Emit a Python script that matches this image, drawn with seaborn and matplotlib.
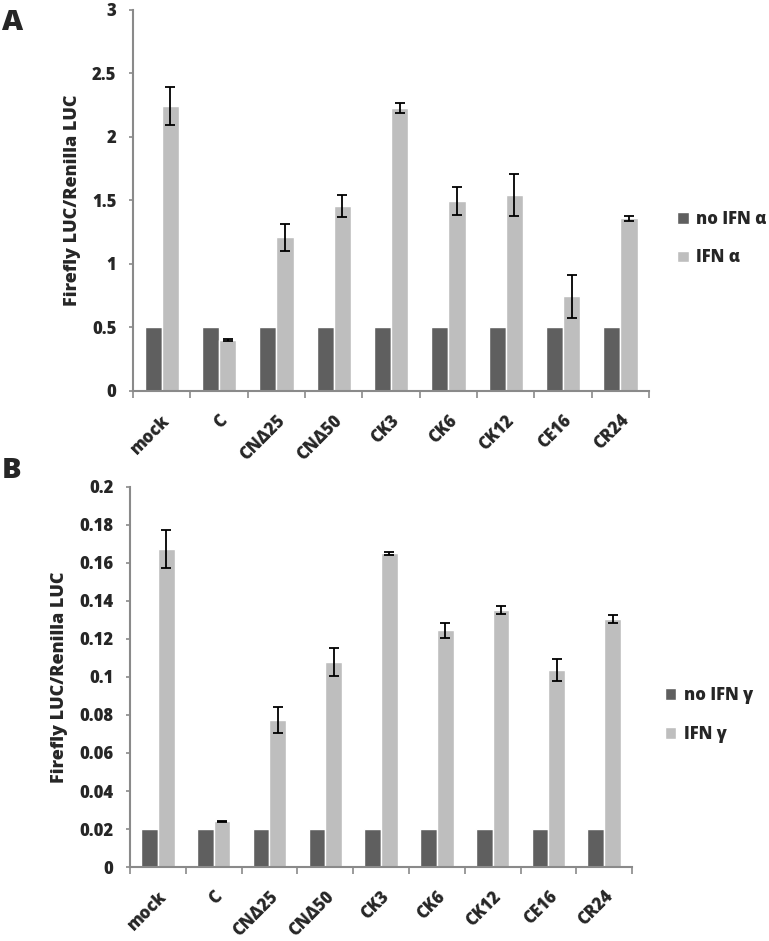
import matplotlib
matplotlib.use('Agg')
from matplotlib import pyplot as plt
from matplotlib.ticker import FixedLocator, FuncFormatter
import numpy as np
import pandas as pd
import seaborn as sns

categories = ['mock', 'C', 'CNΔ25', 'CNΔ50', 'CK3', 'CK6', 'CK12', 'CE16', 'CR24']

# panel A: IFN alpha
no_ifn_a = [0.5, 0.5, 0.5, 0.5, 0.5, 0.5, 0.5, 0.5, 0.5]
ifn_a = [2.24, 0.40, 1.21, 1.455, 2.225, 1.495, 1.545, 0.745, 1.36]
ifn_a_err = [0.15, 0.01, 0.105, 0.085, 0.04, 0.11, 0.165, 0.17, 0.02]

# panel B: IFN gamma
no_ifn_g = [0.02, 0.02, 0.02, 0.02, 0.02, 0.02, 0.02, 0.02, 0.02]
ifn_g = [0.1675, 0.024, 0.0775, 0.1078, 0.165, 0.1245, 0.1353, 0.1035, 0.1305]
ifn_g_err = [0.0100, 0.0003, 0.0068, 0.0072, 0.0008, 0.0040, 0.0020, 0.0057, 0.0020]

DARK = '#5f5f5f'
LIGHT = '#bebebe'
AXIS = '#8a8a8a'
W = 'heavy'

sns.set_theme(style='white')
plt.rcParams['font.family'] = ['Open Sans', 'DejaVu Sans']
plt.rcParams['font.weight'] = 'bold'


def panel(ax, base, vals, errs, labels, ymax, step, leg_x, leg_y):
    df = pd.DataFrame({
        'construct': categories * 2,
        'value': base + vals,
        'treatment': [labels[0]] * len(categories) + [labels[1]] * len(categories),
    })
    sns.barplot(data=df, x='construct', y='value', hue='treatment',
                palette=[DARK, LIGHT], width=0.6, errorbar=None,
                saturation=1, ax=ax, legend=True)
    bars = ax.containers[1]
    xs = [p.get_x() + p.get_width() / 2 for p in bars]
    ax.errorbar(xs, vals, yerr=errs, fmt='none', ecolor='black',
                elinewidth=1.3, capsize=3.5, capthick=1.3)
    ax.set_xlim(-0.5, len(categories) - 0.5)
    ax.set_ylim(0, ymax)
    ax.yaxis.set_major_locator(FixedLocator(np.arange(0, ymax + step / 2, step)))
    ax.yaxis.set_major_formatter(FuncFormatter(lambda v, p: '%g' % round(v, 4)))
    ax.set_xlabel('')
    ax.set_ylabel('Firefly LUC/Renilla LUC', fontsize=13, fontweight=W, labelpad=8)
    ax.xaxis.set_minor_locator(FixedLocator(np.arange(-0.5, len(categories), 1.0)))
    ax.tick_params(axis='x', which='major', length=0, pad=15)
    ax.tick_params(axis='x', which='minor', length=5, color=AXIS, width=1.2, bottom=True)
    ax.tick_params(axis='y', length=3, color=AXIS, width=1.2, pad=9, left=True)
    plt.setp(ax.get_xticklabels(), rotation=45, ha='right', rotation_mode='anchor',
             fontsize=12, fontweight=W)
    plt.setp(ax.get_yticklabels(), fontsize=12, fontweight=W)
    for s in ['top', 'right']:
        ax.spines[s].set_visible(False)
    for s in ['left', 'bottom']:
        ax.spines[s].set_color(AXIS)
        ax.spines[s].set_linewidth(1.5)
    ax.legend(loc='center left', bbox_to_anchor=(leg_x, leg_y), frameon=False,
              handlelength=0.7, handleheight=0.7, handletextpad=0.45,
              labelspacing=1.3, prop={'weight': W, 'size': 12})


fig = plt.figure(figsize=(7.69, 9.41), dpi=100)
ax_a = fig.add_axes([0.173, 0.5845, 0.671, 0.405])
ax_b = fig.add_axes([0.169, 0.0786, 0.653, 0.404])

panel(ax_a, no_ifn_a, ifn_a, ifn_a_err, ['no IFN α', 'IFN α'], 3, 0.5, 1.025, 0.40)
panel(ax_b, no_ifn_g, ifn_g, ifn_g_err, ['no IFN γ', 'IFN γ'], 0.2, 0.02, 1.035, 0.40)

fig.text(0.002, 0.992, 'A', fontsize=21, fontweight=W, va='top', ha='left')
fig.text(0.002, 0.515, 'B', fontsize=21, fontweight=W, va='top', ha='left')

fig.savefig('out.png', dpi=100)
plt.close(fig)
